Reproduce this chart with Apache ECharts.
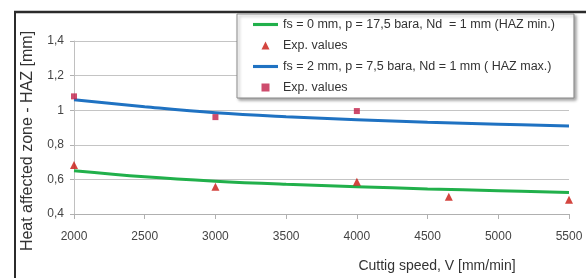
<!DOCTYPE html>
<html><head><meta charset="utf-8">
<script src="https://cdn.jsdelivr.net/npm/echarts@6/dist/echarts.min.js"></script>
<style>html,body{margin:0;padding:0;background:#fff}#c{width:586px;height:278px}</style>
</head><body><div id="c"></div>
<script>
// Speeds for the fitted curves (mm/min)
const curveSpeeds = [2000, 2500, 3000, 3500, 4000, 4500, 5000, 5500];
// HAZ min. fitted curve (mm)
const hazMinCurve = [0.65, 0.615, 0.59, 0.572, 0.558, 0.545, 0.535, 0.524];
// HAZ max. fitted curve (mm)
const hazMaxCurve = [1.06, 1.02, 0.985, 0.962, 0.945, 0.93, 0.919, 0.909];
// Experimental values, HAZ min. (triangles)
const expMinSpeeds = [2000, 3000, 4000, 4650, 5500];
const expMinValues = [0.683, 0.558, 0.587, 0.50, 0.482];
// Experimental values, HAZ max. (squares)
const expMaxSpeeds = [2000, 3000, 4000];
const expMaxValues = [1.08, 0.96, 0.995];

const nameMin = 'fs = 0 mm, p = 17,5 bara, Nd  = 1 mm (HAZ min.)';
const nameMax = 'fs = 2 mm, p = 7,5 bara, Nd = 1 mm ( HAZ max.)';
const nameExpMin = 'Exp. values';
const nameExpMax = 'Exp. values ';

const zip = (xs, ys) => xs.map((x, i) => [x, ys[i]]);
const font = '"Liberation Sans", Arial, sans-serif';

const lineIcon = 'path://M0,0 L24,0 L24,3 L0,3 Z';
const triIcon = 'path://M0,7 L3.5,0 L7,7 Z M-3,-1 M10,9';
const sqIcon = 'path://M0,0 L5,0 L5,5 L0,5 Z';

const chart = echarts.init(document.getElementById('c'), null, {renderer: 'canvas'});
chart.setOption({
  animation: false,
  backgroundColor: '#fff',
  textStyle: {fontFamily: font},
  grid: {left: 74, right: 17, top: 41, bottom: 64, containLabel: false},
  graphic: [
    {type: 'line', shape: {x1: 14, y1: 12, x2: 586, y2: 12}, style: {stroke: '#2b2b2b', lineWidth: 2.5}, z: 10},
    {type: 'line', shape: {x1: 15, y1: 11, x2: 15, y2: 278}, style: {stroke: '#2b2b2b', lineWidth: 2}, z: 10}
  ],
  legend: {
    orient: 'vertical',
    left: 237, top: 14,
    padding: [4, 19, 4, 16],
    itemGap: 8,
    itemWidth: 25, itemHeight: 8,
    symbolKeepAspect: true,
    backgroundColor: '#fff',
    borderColor: '#8a8a8a', borderWidth: 1,
    shadowColor: 'rgba(0,0,0,0.35)', shadowBlur: 3, shadowOffsetX: 2, shadowOffsetY: 2,
    textStyle: {fontSize: 12.5, color: '#333', fontFamily: font},
    data: [
      {name: nameMin, icon: lineIcon},
      {name: nameExpMin, icon: 'path://M0,7 L3.5,0 L7,7 Z'},
      {name: nameMax, icon: lineIcon},
      {name: nameExpMax, icon: sqIcon}
    ],
    z: 20
  },
  xAxis: {
    type: 'value', min: 2000, max: 5500, interval: 500,
    name: 'Cuttig speed, V [mm/min]', nameLocation: 'middle', nameGap: 45,
    nameTextStyle: {fontSize: 14, color: '#333', padding: [0, 0, 0, 231]},
    axisLine: {show: true, lineStyle: {color: '#b0b0b0', width: 1}},
    axisTick: {show: true, length: 5, lineStyle: {color: '#b0b0b0'}},
    axisLabel: {fontSize: 12, color: '#444', margin: 17, formatter: v => String(v)},
    splitLine: {show: false}
  },
  yAxis: {
    type: 'value', min: 0.4, max: 1.4, interval: 0.2,
    name: 'Heat affected zone - HAZ [mm]', nameLocation: 'middle', nameGap: 38,
    nameTextStyle: {fontSize: 16, color: '#333', padding: [0, 27, 0, 0]},
    axisLine: {show: true, lineStyle: {color: '#c0c0c0', width: 1}},
    axisTick: {show: true, length: 4, lineStyle: {color: '#b0b0b0'}},
    axisLabel: {fontSize: 12, color: '#444', margin: 10,
      formatter: v => String(Math.round(v * 10) / 10).replace('.', ',')},
    splitLine: {show: true, lineStyle: {color: '#c4c4c4', width: 1}}
  },
  series: [
    {name: nameMin, type: 'line', data: zip(curveSpeeds, hazMinCurve), smooth: 0.4,
     symbol: 'none', lineStyle: {color: '#21b04b', width: 3}, itemStyle: {color: '#21b04b'}, z: 3},
    {name: nameMax, type: 'line', data: zip(curveSpeeds, hazMaxCurve), smooth: 0.4,
     symbol: 'none', lineStyle: {color: '#1f72c2', width: 3}, itemStyle: {color: '#1f72c2'}, z: 3},
    {name: nameExpMin, type: 'scatter', data: zip(expMinSpeeds, expMinValues),
     symbol: 'triangle', symbolSize: 8, itemStyle: {color: '#c8170f'}, z: 5},
    {name: nameExpMax, type: 'scatter', data: zip(expMaxSpeeds, expMaxValues),
     symbol: 'rect', symbolSize: 6, itemStyle: {color: '#c21f48'}, z: 5}
  ]
});
</script></body></html>
